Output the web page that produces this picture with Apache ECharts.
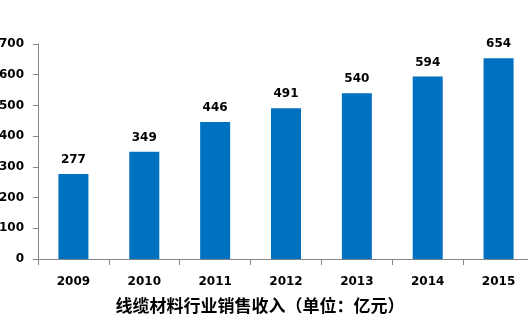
<!DOCTYPE html>
<html>
<head>
<meta charset="utf-8">
<script src="https://cdn.jsdelivr.net/npm/echarts@6/dist/echarts.min.js"></script>
<style>
  html, body { margin: 0; padding: 0; background: #fff; }
  #chart { width: 528px; height: 327px; }
</style>
</head>
<body>
<div id="chart"></div>
<script>
// Cable materials industry sales revenue by year (100 million yuan)
const years = ['2009', '2010', '2011', '2012', '2013', '2014', '2015'];
const revenue = [277, 349, 446, 491, 540, 594, 654];
const chartTitle = '线缆材料行业销售收入（单位：亿元）';

const chart = echarts.init(document.getElementById('chart'));
const font = 'Tahoma, "DejaVu Sans", "Noto Sans CJK SC", sans-serif';

chart.setOption({
  animation: false,
  title: {
    text: chartTitle,
    left: 255,
    textAlign: 'center',
    top: 292,
    textStyle: { fontSize: 17, fontWeight: 'bold', color: '#000', fontFamily: '"Noto Sans CJK SC", sans-serif' }
  },
  // the plot area runs slightly past the right edge of the canvas
  grid: { left: 38, width: 496, top: 44, height: 215, containLabel: false, outerBoundsMode: 'none' },
  xAxis: {
    type: 'category',
    data: years,
    axisLine: { lineStyle: { color: '#868686', width: 1 } },
    axisTick: { show: true, length: 6, lineStyle: { color: '#868686' } },
    axisLabel: { color: '#000', fontWeight: 'bold', fontSize: 12, fontFamily: font, margin: 17 }
  },
  yAxis: {
    type: 'value',
    min: 0, max: 700, interval: 100,
    axisLine: { show: true, lineStyle: { color: '#868686', width: 1 } },
    axisTick: { show: true, length: 5, lineStyle: { color: '#868686' } },
    splitLine: { show: false },
    axisLabel: { color: '#000', fontWeight: 'bold', fontSize: 12, fontFamily: font, margin: 14 }
  },
  series: [{
    type: 'bar',
    data: revenue,
    barWidth: 30,
    itemStyle: { color: '#0070C0' },
    label: {
      show: true, position: 'top', distance: 8,
      color: '#000', fontWeight: 'bold', fontSize: 12, fontFamily: font
    }
  }]
});
</script>
</body>
</html>
